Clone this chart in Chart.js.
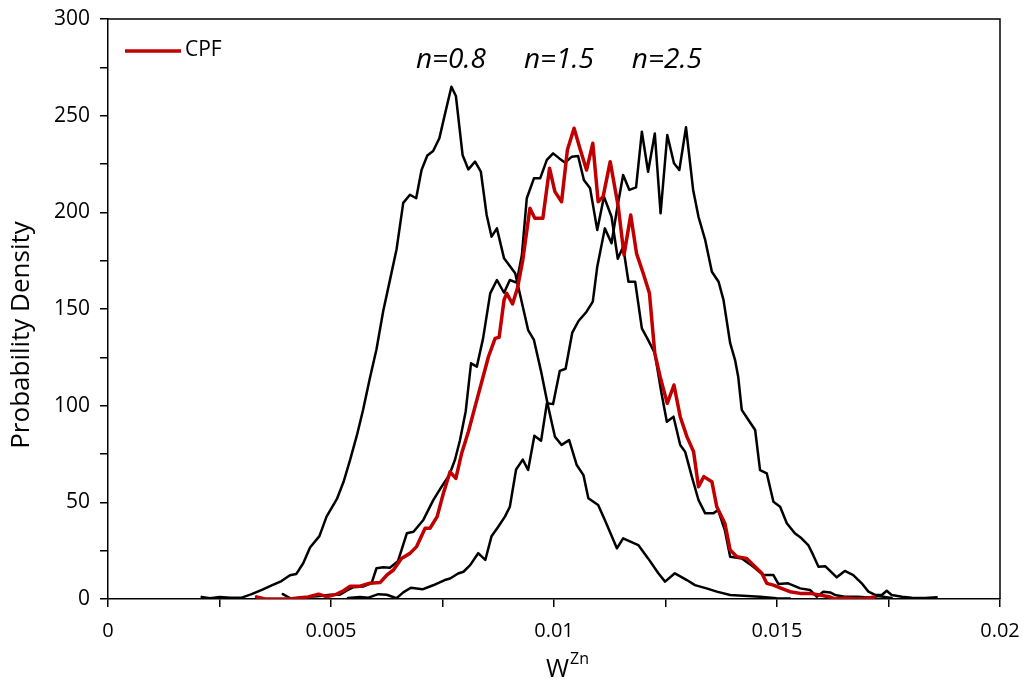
<!DOCTYPE html>
<html><head><meta charset="utf-8">
<script src="https://cdn.jsdelivr.net/npm/chart.js@4.4.0/dist/chart.umd.min.js"></script>
<style>html,body{margin:0;padding:0;background:#fff}</style>
</head><body>
<canvas id="c" width="1024" height="683"></canvas>
<script>
// ---- data (W^Zn, probability density) ----
const n08X = [0.00210,0.00229,0.00251,0.00274,0.00300,0.00322,0.00345,0.00367,0.00389,0.00408,0.00422,0.00438,0.00453,0.00474,0.00490,0.00513,0.00528,0.00543,0.00558,0.00572,0.00587,0.00602,0.00617,0.00632,0.00647,0.00662,0.00677,0.00691,0.00703,0.00716,0.00729,0.00743,0.00756,0.00770,0.00780,0.00795,0.00808,0.00823,0.00836,0.00849,0.00860,0.00872,0.00888,0.00913,0.00942,0.00955,0.00972,0.00987,0.01002,0.01017,0.01034,0.01051,0.01066,0.01077,0.01099,0.01114,0.01141,0.01155,0.01189,0.01211,0.01234,0.01249,0.01271,0.01298,0.01316,0.01342,0.01365,0.01395,0.01424,0.01462,0.01499,0.01529];
const n08Y = [1.1,0.4,1.1,0.7,0.7,2.5,4.7,7.0,9.3,12.3,12.9,18.6,26.6,32.5,42.6,51.6,60.5,72.1,84.6,97.9,114.0,129.2,148.8,164.8,180.9,204.9,209.1,207.3,221.9,229.4,231.7,238.3,251.3,265.0,260.2,229.7,222.2,226.2,221.0,198.6,187.4,191.7,176.2,168.5,139.1,134.0,116.7,99.5,84.0,79.7,82.2,69.3,64.1,52.1,48.6,40.9,26.2,31.4,27.9,21.0,13.3,9.0,13.3,9.8,7.2,5.5,3.8,2.1,1.7,1.2,0.4,0.2];

const n15X = [0.00392,0.00412,0.00430,0.00453,0.00475,0.00498,0.00520,0.00535,0.00550,0.00572,0.00591,0.00602,0.00617,0.00632,0.00650,0.00670,0.00685,0.00707,0.00729,0.00748,0.00765,0.00778,0.00789,0.00802,0.00814,0.00827,0.00841,0.00857,0.00872,0.00888,0.00901,0.00916,0.00928,0.00939,0.00955,0.00969,0.00984,0.00998,0.01012,0.01025,0.01040,0.01054,0.01067,0.01081,0.01097,0.01112,0.01129,0.01143,0.01155,0.01167,0.01182,0.01197,0.01211,0.01226,0.01241,0.01253,0.01268,0.01283,0.01294,0.01309,0.01324,0.01339,0.01357,0.01368,0.01383,0.01395,0.01421,0.01447,0.01469,0.01492,0.01503,0.01525,0.01552,0.01574,0.01589,0.01604,0.01619,0.01630,0.01652,0.01682,0.01712,0.01727,0.01757];
const n15Y = [2.5,0,0.7,1.1,1.6,2.2,2.2,4.3,6.1,6.4,8.2,15.9,16.4,16.2,19.5,34.0,34.8,40.9,51.0,58.1,64.0,72.0,82.0,97.0,121.9,120.2,134.8,158.1,165.0,158.4,165.0,163.6,178.0,207.3,217.6,217.6,227.1,230.5,227.9,225.7,228.8,229.1,216.7,212.4,190.9,208.1,197.7,176.0,182.2,164.1,164.1,140.0,134.0,127.1,106.4,91.7,94.3,79.7,76.2,63.3,51.2,44.3,44.3,46.0,35.7,21.9,21.0,16.7,12.4,12.4,7.8,8.1,5.5,4.7,1.2,3.8,3.4,2.1,1.2,1.2,0.7,1.5,0.5];

const cpfX = [0.00333,0.00352,0.00378,0.00408,0.00430,0.00449,0.00472,0.00490,0.00513,0.00528,0.00543,0.00565,0.00587,0.00610,0.00625,0.00640,0.00658,0.00677,0.00692,0.00711,0.00722,0.00738,0.00752,0.00767,0.00780,0.00793,0.00808,0.00823,0.00838,0.00853,0.00868,0.00877,0.00888,0.00894,0.00907,0.00918,0.00930,0.00946,0.00957,0.00975,0.00990,0.01002,0.01017,0.01030,0.01045,0.01058,0.01073,0.01087,0.01099,0.01110,0.01126,0.01144,0.01157,0.01172,0.01185,0.01200,0.01214,0.01226,0.01238,0.01254,0.01269,0.01283,0.01298,0.01313,0.01324,0.01336,0.01354,0.01365,0.01383,0.01395,0.01410,0.01432,0.01451,0.01466,0.01477,0.01492,0.01510,0.01529,0.01552,0.01574,0.01596,0.01619,0.01630,0.01652,0.01682,0.01705,0.01718];
const cpfY = [1.1,0,0,0,0.7,1.1,2.5,1.2,2.5,4.3,6.6,6.6,8.2,8.5,12.3,15.0,21.0,23.6,27.1,36.6,36.6,42.6,54.7,65.8,62.4,75.4,86.5,99.5,112.4,125.3,134.8,135.4,154.7,158.1,152.6,160.7,175.3,202.1,196.9,196.9,222.8,210.7,205.5,232.2,243.5,233.1,221.9,235.7,205.5,208.0,226.2,203.0,178.0,198.6,178.8,168.5,158.1,127.1,115.0,101.2,110.7,94.3,84.0,76.2,58.1,63.3,60.7,47.7,39.2,25.3,21.9,21.0,16.7,13.3,8.1,7.2,5.5,3.8,2.9,2.9,2.1,1.0,0,0.5,0,0.5,1.0];

const n25X = [0.00538,0.00565,0.00584,0.00606,0.00625,0.00647,0.00662,0.00679,0.00705,0.00729,0.00755,0.00767,0.00785,0.00797,0.00812,0.00830,0.00846,0.00860,0.00875,0.00890,0.00901,0.00915,0.00930,0.00942,0.00956,0.00971,0.00984,0.00998,0.01013,0.01026,0.01041,0.01055,0.01073,0.01087,0.01097,0.01114,0.01129,0.01141,0.01155,0.01169,0.01184,0.01197,0.01211,0.01226,0.01239,0.01254,0.01269,0.01281,0.01296,0.01312,0.01324,0.01339,0.01354,0.01369,0.01380,0.01395,0.01406,0.01413,0.01421,0.01436,0.01451,0.01462,0.01477,0.01492,0.01507,0.01522,0.01540,0.01555,0.01570,0.01581,0.01593,0.01608,0.01634,0.01652,0.01671,0.01690,0.01705,0.01720,0.01735,0.01746,0.01757,0.01780,0.01802,0.01832,0.01858];
const n25Y = [0.5,1.1,0.7,2.5,2.2,0.4,3.4,5.8,5.0,7.1,9.8,10.6,13.2,14.1,17.5,23.7,20.2,32.5,37.4,42.6,47.7,67.0,72.1,66.7,84.4,81.8,101.2,100.8,118.0,119.1,137.8,143.8,148.6,153.8,171.9,191.7,184.0,201.2,219.3,211.6,212.9,241.7,221.0,240.8,199.5,240.0,225.4,221.9,244.0,211.6,197.7,185.7,169.3,164.1,154.7,132.3,123.6,115.0,97.8,92.6,87.4,66.7,65.0,50.3,47.7,39.2,34.0,31.4,27.9,22.8,16.7,17.0,11.2,14.5,12.4,8.1,3.8,2.1,2.1,4.3,2.1,1.2,0.7,0.5,0.9];

const xTicks = [0, 0.005, 0.01, 0.015, 0.02];
const yTicks = [0, 50, 100, 150, 200, 250, 300];
const curveLabels = ['n=0.8', 'n=1.5', 'n=2.5'];
const labelW = [0.00769, 0.01011, 0.01253];
const legendText = 'CPF';

const pts = (xs, ys) => xs.map((v, i) => ({x: v, y: ys[i]}));
const FONT = '"Open Sans", "DejaVu Sans", sans-serif';

const deco = {
  id: 'deco',
  afterDraw(chart) {
    const {ctx, chartArea: a, scales: {x, y}} = chart;
    ctx.save();
    ctx.strokeStyle = '#000'; ctx.lineWidth = 1.5;
    ctx.beginPath(); ctx.moveTo(a.left, a.top); ctx.lineTo(a.right, a.top); ctx.lineTo(a.right, a.bottom); ctx.stroke();
    // legend
    ctx.strokeStyle = '#C00000'; ctx.lineWidth = 3.5;
    ctx.beginPath(); ctx.moveTo(125, 51); ctx.lineTo(181, 51); ctx.stroke();
    ctx.fillStyle = '#000'; ctx.textBaseline = 'middle'; ctx.textAlign = 'left';
    ctx.font = '21px ' + FONT;
    ctx.fillText(legendText, 185, 50);
    // curve labels
    ctx.font = 'italic 28px ' + FONT; ctx.textAlign = 'center';
    curveLabels.forEach((t, i) => ctx.fillText(t, x.getPixelForValue(labelW[i]), y.getPixelForValue(279)));
    // y title
    ctx.save(); ctx.translate(22, 335); ctx.rotate(-Math.PI / 2);
    ctx.font = '26px ' + FONT; ctx.textAlign = 'center';
    ctx.fillText('Probability Density', 0, 0); ctx.restore();
    // x title W^Zn
    ctx.textBaseline = 'alphabetic'; ctx.textAlign = 'left';
    ctx.font = '25px ' + FONT; const wW = ctx.measureText('W').width;
    ctx.font = '16px ' + FONT; const wZ = ctx.measureText('Zn').width;
    const cx = 567, x0 = cx - (wW + wZ) / 2;
    ctx.font = '25px ' + FONT; ctx.fillText('W', x0, 677);
    ctx.font = '16px ' + FONT; ctx.fillText('Zn', x0 + wW + 1, 664);
    ctx.restore();
  }
};

const ds = (label, xs, ys, color, w) => ({label, data: pts(xs, ys), borderColor: color, backgroundColor: color,
  borderWidth: w, pointRadius: 0, showLine: true, tension: 0, fill: false, borderJoinStyle: 'round', borderCapStyle: 'round'});

new Chart(document.getElementById('c'), {
  type: 'scatter',
  data: { datasets: [
    ds(legendText, cpfX, cpfY, '#C00000', 3.5),
    ds('n=0.8', n08X, n08Y, '#000', 2.5),
    ds('n=1.5', n15X, n15Y, '#000', 2.5),
    ds('n=2.5', n25X, n25Y, '#000', 2.5)
  ]},
  options: {
    responsive: false, animation: false, devicePixelRatio: 1,
    layout: { padding: {left: 0, right: 24, top: 19, bottom: 0} },
    plugins: { legend: {display: false}, tooltip: {enabled: false} },
    scales: {
      x: {
        type: 'linear', min: 0, max: 0.02,
        afterFit(s) { s.height = 84; s.paddingLeft = 0; s.paddingRight = 0; },
        afterBuildTicks(s) { s.ticks = []; for (let i = 0; i <= 8; i++) s.ticks.push({value: i * 0.0025}); },
        ticks: { autoSkip: false, maxRotation: 0, padding: 12, color: '#000', font: {family: FONT, size: 20},
          callback: (v) => { const m = xTicks.find(t => Math.abs(t - v) < 1e-9); return m === undefined ? '' : String(m); } },
        grid: { drawOnChartArea: false, drawTicks: true, tickLength: 8, color: '#000', lineWidth: 1.5 },
        border: { color: '#000', width: 1.5 }
      },
      y: {
        type: 'linear', min: 0, max: 300,
        afterFit(s) { s.width = 108; s.paddingTop = 0; s.paddingBottom = 0; },
        afterBuildTicks(s) { s.ticks = []; for (let i = 0; i <= 12; i++) s.ticks.push({value: i * 25}); },
        ticks: { autoSkip: false, padding: 10, color: '#000', font: {family: FONT, size: 21},
          callback: (v) => yTicks.includes(v) ? String(v) : '' },
        grid: { drawOnChartArea: false, drawTicks: true, tickLength: 8, color: '#000', lineWidth: 1.5 },
        border: { color: '#000', width: 1.5 }
      }
    }
  },
  plugins: [deco]
});
</script>
</body></html>
